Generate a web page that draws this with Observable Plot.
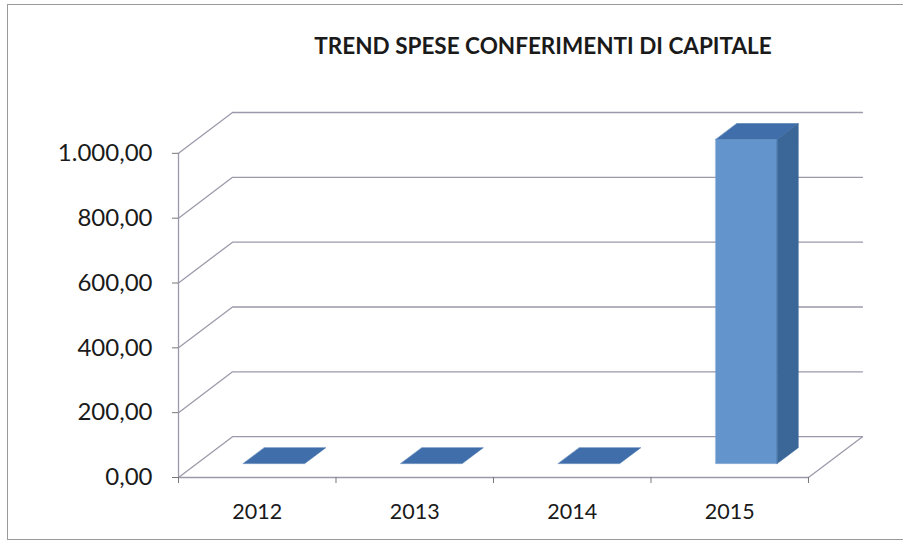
<!DOCTYPE html>
<html>
<head>
<meta charset="utf-8">
<script src="https://cdn.jsdelivr.net/npm/d3@7"></script>
<script src="https://cdn.jsdelivr.net/npm/@observablehq/plot@0.6"></script>
<style>
  html, body { margin: 0; padding: 0; background: #fff; }
  #wrap { position: relative; width: 903px; height: 546px; overflow: hidden; }
  #border { position: absolute; left: 7px; top: 4px; width: 1000px; height: 536px; border: 1px solid #9a9a9a; box-sizing: border-box; }
  #title { position: absolute; left: 0; width: 1086px; top: 32px; text-align: center; font-family: Lato, sans-serif; font-weight: bold; font-size: 22.5px; color: #1a1a1a; }
  #chart { position: absolute; left: 0; top: 0; }
</style>
</head>
<body>
<div id="wrap">
  <div id="border"></div>
  <div id="title">TREND SPESE CONFERIMENTI DI CAPITALE</div>
  <div id="chart"></div>
</div>
<script>
// ---- data ----
const years = ["2012", "2013", "2014", "2015"];
const values = [0, 0, 0, 1000];
const yTicks = [0, 200, 400, 600, 800, 1000];

// ---- 3D layout parameters (in data units) ----
const KX = 0.343;   // depth offset along x (category units)
const KY = 126;     // depth offset along y (value units)
const BX0 = 0.295, BX1 = 0.685;  // bar position inside category
const D1 = 0.34, D2 = 0.73;      // bar depth (fraction of floor depth)
const n = years.length;

const P = (cx, v, d) => ({x: cx + d * KX, y: v + d * KY});

// gridlines on left wall + back wall
const grid = [];
yTicks.forEach((t, k) => {
  [P(0, t, 0), P(0, t, 1), P(n, t, 1)].forEach(p => grid.push({...p, id: "g" + k}));
});
// floor outline: front edge and right edge
const floorPts = [P(0, 0, 0), P(n, 0, 0), P(n, 0, 1)].map(p => ({...p, id: "f"}));
const axisPts = [P(0, 0, 0), P(0, 1000, 0)].map(p => ({...p, id: "a"}));

// bar faces
const frontFaces = [], sideFaces = [], topFaces = [];
values.forEach((v, i) => {
  const x0 = i + BX0, x1 = i + BX1;
  if (v > 0) {
    [P(x0, 0, D1), P(x1, 0, D1), P(x1, v, D1), P(x0, v, D1)].forEach(p => frontFaces.push({...p, id: i}));
    [P(x1, 0, D1), P(x1, 0, D2), P(x1, v, D2), P(x1, v, D1)].forEach(p => sideFaces.push({...p, id: i}));
  }
  [P(x0, v, D1), P(x1, v, D1), P(x1, v, D2), P(x0, v, D2)].forEach(p => topFaces.push({...p, id: i}));
});

const itLocale = d3.formatLocale({decimal: ",", thousands: ".", grouping: [3], currency: ["", "€"]});
const fmt = itLocale.format(",.2f");
const gridColor = "#9b9aab";

const chart = Plot.plot({
  width: 903,
  height: 546,
  marginLeft: 178,
  marginRight: 41,
  marginTop: 112,
  marginBottom: 69,
  style: {fontFamily: "Lato, sans-serif", fontSize: "21px", color: "#1a1a1a", background: "transparent"},
  x: {domain: [0, n + KX], axis: null},
  y: {domain: [0, 1000 + KY], axis: null},
  marks: [
    Plot.line(grid, {x: "x", y: "y", z: "id", stroke: gridColor, strokeWidth: 1.3}),
    Plot.line(floorPts, {x: "x", y: "y", z: "id", stroke: gridColor, strokeWidth: 1.3}),
    Plot.line(axisPts, {x: "x", y: "y", z: "id", stroke: gridColor, strokeWidth: 1.3}),
    Plot.line(topFaces, {x: "x", y: "y", z: "id", fill: "#3f6eaa", stroke: "#3f6eaa", strokeWidth: 0.5, curve: "linear-closed"}),
    Plot.line(frontFaces, {x: "x", y: "y", z: "id", fill: "#6394cb", stroke: "#5b8cc3", strokeWidth: 0.5, curve: "linear-closed"}),
    Plot.line(sideFaces, {x: "x", y: "y", z: "id", fill: "#3b6698", stroke: "#3b6698", strokeWidth: 0.5, curve: "linear-closed"}),
    Plot.axisY(yTicks, {tickFormat: fmt, tickSize: 6, tickPadding: 20, stroke: "#777", fontSize: 24, label: null}),
    Plot.axisX(d3.range(n + 1), {tickFormat: () => "", tickSize: 6, stroke: "#777", label: null}),
    Plot.axisX(d3.range(n).map(i => i + 0.5), {tickFormat: d => years[Math.floor(d)], tickSize: 0, tickPadding: 26, fontSize: 21.5, label: null})
  ]
});
document.getElementById("chart").appendChild(chart);
</script>
</body>
</html>
